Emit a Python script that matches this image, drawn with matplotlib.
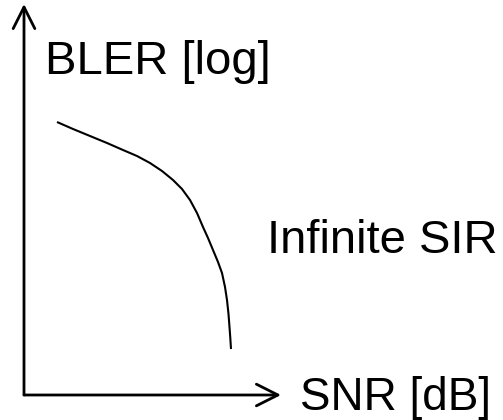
import numpy as np
import matplotlib.pyplot as plt

plt.rcParams['font.family'] = ['Liberation Sans', 'DejaVu Sans']

# sketch curve (pixel-like coordinates, y grows downward)
curve_x = [57, 73, 90, 107, 123, 137, 150, 162, 173, 182, 190, 197, 203,
           208, 213, 218, 222, 225, 227, 228.5, 229.5, 230.3, 231]
curve_y = [122, 129, 136, 143, 150, 156, 163, 171, 180, 189, 200, 213, 227,
           238, 250, 262, 273, 287, 300, 314, 327, 338, 349]

origin = (24, 395)
y_tip = (24, 4)
x_tip = (281, 395)

fig = plt.figure(figsize=(5.03, 4.20), dpi=100)
ax = fig.add_axes([0, 0, 1, 1])
ax.set_xlim(0, 503)
ax.set_ylim(420, 0)
ax.axis('off')

arrow = dict(arrowstyle='->,head_length=15.5,head_width=7.8',
             mutation_scale=1, lw=2, color='black', shrinkA=0, shrinkB=0)
ax.annotate('', xy=y_tip, xytext=origin, arrowprops=arrow)
ax.annotate('', xy=x_tip, xytext=origin, arrowprops=arrow)

ax.plot(curve_x, curve_y, color='black', lw=1.5, solid_joinstyle='round',
        solid_capstyle='butt')

ax.text(45, 74, 'BLER [log]', fontsize=34, ha='left', va='baseline')
ax.text(300, 410, 'SNR [dB]', fontsize=33, ha='left', va='baseline')
ax.text(267, 253, 'Infinite SIR', fontsize=34, ha='left', va='baseline')

fig.savefig('out.png', dpi=100)
